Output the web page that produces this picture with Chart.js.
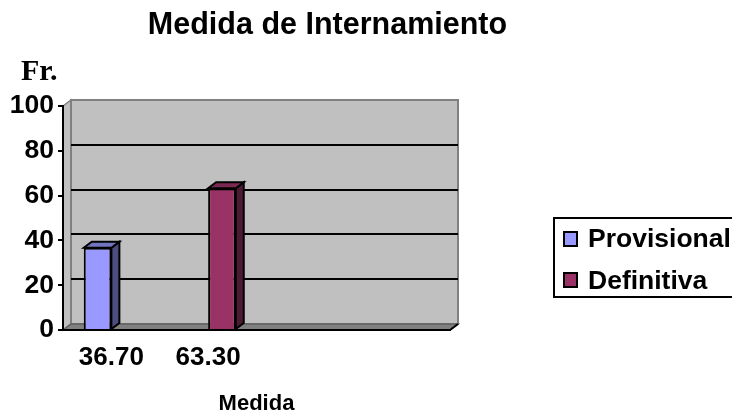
<!DOCTYPE html>
<html>
<head>
<meta charset="utf-8">
<script src="https://cdn.jsdelivr.net/npm/chart.js@4"></script>
<style>
  body { margin: 0; background: #fff; overflow: hidden; }
  #wrap { position: relative; width: 732px; height: 412px; overflow: hidden; }
  #c { position: absolute; left: 0; top: 0; }
  .txt { position: absolute; white-space: nowrap; color: #000; }
  #title { left: 0; top: 8px; width: 655px; text-align: center;
           font: bold 30.5px/30px "Liberation Sans", Arial, sans-serif; }
  #fr { left: 21px; top: 55px; font: bold 30px/30px "Liberation Serif", "Times New Roman", serif; }
  /* the legend box runs off the right edge of the picture */
  #legend { position: absolute; left: 553px; top: 217px; width: 179px; height: 81px;
            box-sizing: border-box; border: 2px solid #000; border-right: none; }
  .sw { position: absolute; width: 15px; height: 16px; box-sizing: border-box; border: 2px solid #000; }
  .lt { font: bold 26.5px/26px "Liberation Sans", Arial, sans-serif; }
</style>
</head>
<body>
<div id="wrap">
  <canvas id="c" width="732" height="412"></canvas>
  <div class="txt" id="title">Medida de Internamiento</div>
  <div class="txt" id="fr">Fr.</div>
  <div id="legend"></div>
</div>
<script>
/* ── data ─────────────────────────────────────────── */
const categories   = ['36.70', '63.30', '', ''];
const provisional  = [36.7, null, null, null];
const definitiva   = [null, 63.3, null, null];
const seriesNames  = ['Provisional', 'Definitiva'];
const yTickValues  = [0, 20, 40, 60, 80, 100];

/* ── look ─────────────────────────────────────────── */
const FRONT = ['#9999FF', '#993366'];
const TOP   = ['#7373BF', '#7A2952'];
const SIDE  = ['#4D4D80', '#4D1A33'];
const DEPTH = { x: 8, y: 6 };
const SANS  = '"Liberation Sans", Arial, sans-serif';

/* legend (html) */
const wrap = document.getElementById('wrap');
seriesNames.forEach((name, i) => {
    const sw = document.createElement('div');
    sw.className = 'sw';
    sw.style.left = '563px';
    sw.style.top = (231 + i * 41) + 'px';
    sw.style.background = FRONT[i];
    wrap.appendChild(sw);
    const t = document.createElement('div');
    t.className = 'txt lt';
    t.style.left = '588px';
    t.style.top = (225 + i * 41.5) + 'px';
    t.textContent = name;
    wrap.appendChild(t);
});

function poly(ctx, pts, fill, stroke, lw) {
    ctx.beginPath();
    ctx.moveTo(pts[0][0], pts[0][1]);
    for (let i = 1; i < pts.length; i++) ctx.lineTo(pts[i][0], pts[i][1]);
    ctx.closePath();
    if (fill) { ctx.fillStyle = fill; ctx.fill(); }
    if (stroke) { ctx.strokeStyle = stroke; ctx.lineWidth = lw || 1; ctx.stroke(); }
}

/* walls, floor and gridlines on the back wall */
const walls3d = {
    id: 'walls3d',
    beforeDraw(chart) {
        const { ctx, chartArea: a, scales: { y } } = chart;
        const dx = DEPTH.x, dy = DEPTH.y;
        ctx.save();
        // left wall
        poly(ctx, [[a.left, a.top], [a.left + dx, a.top - dy], [a.left + dx, a.bottom - dy], [a.left, a.bottom]],
             '#C0C0C0', '#808080', 1.5);
        // back wall
        poly(ctx, [[a.left + dx, a.top - dy], [a.right + dx, a.top - dy], [a.right + dx, a.bottom - dy], [a.left + dx, a.bottom - dy]],
             '#C0C0C0', '#808080', 2);
        // gridlines
        ctx.strokeStyle = '#000';
        ctx.lineWidth = 2;
        yTickValues.forEach(v => {
            if (v === 0 || v === 100) return;
            const py = Math.round(y.getPixelForValue(v)) - dy;
            ctx.beginPath();
            ctx.moveTo(a.left + dx, py);
            ctx.lineTo(a.right + dx, py);
            ctx.stroke();
        });
        // floor
        poly(ctx, [[a.left, a.bottom], [a.left + dx, a.bottom - dy], [a.right + dx, a.bottom - dy], [a.right, a.bottom]],
             '#808080', '#606060', 1.5);
        ctx.strokeStyle = '#000';
        ctx.lineWidth = 2;
        ctx.beginPath();
        ctx.moveTo(a.right, a.bottom);
        ctx.lineTo(a.right + dx, a.bottom - dy);
        ctx.stroke();
        ctx.restore();
    }
};

/* top and side faces of the bars */
const bars3d = {
    id: 'bars3d',
    afterDatasetsDraw(chart) {
        const ctx = chart.ctx;
        const dx = DEPTH.x, dy = DEPTH.y;
        ctx.save();
        chart.data.datasets.forEach((ds, di) => {
            chart.getDatasetMeta(di).data.forEach((bar, i) => {
                if (ds.data[i] == null) return;
                const { x, y, base, width } = bar.getProps(['x', 'y', 'base', 'width'], true);
                const l = x - width / 2, r = x + width / 2;
                poly(ctx, [[r, y], [r + dx, y - dy], [r + dx, base - dy], [r, base]], SIDE[di], '#000', 2);
                poly(ctx, [[l, y], [l + dx, y - dy], [r + dx, y - dy], [r, y]], TOP[di], '#000', 2);
            });
        });
        ctx.restore();
    }
};

new Chart(document.getElementById('c'), {
    type: 'bar',
    data: {
        labels: categories,
        datasets: [
            { label: seriesNames[0], data: provisional, backgroundColor: FRONT[0], borderColor: '#000', borderWidth: 2 },
            { label: seriesNames[1], data: definitiva,  backgroundColor: FRONT[1], borderColor: '#000', borderWidth: 2 },
        ],
    },
    options: {
        responsive: false,
        animation: false,
        categoryPercentage: 0.571,
        barPercentage: 1,
        layout: { padding: { top: 106, right: 282, bottom: 0, left: 0 } },
        plugins: { legend: { display: false }, tooltip: { enabled: false }, title: { display: false } },
        scales: {
            x: {
                grid: { display: false, drawTicks: false },
                border: { display: true, color: '#000', width: 2 },
                ticks: { color: '#000', font: { family: SANS, size: 26, weight: 'bold' }, padding: 12, maxRotation: 0, autoSkip: false },
                title: { display: true, text: 'Medida', color: '#000', font: { family: SANS, size: 22, weight: 'bold', lineHeight: 0.7 }, padding: 0 },
                afterFit(scale) { scale.height = 82; },
            },
            y: {
                min: 0, max: 100,
                afterBuildTicks(scale) { scale.ticks = yTickValues.map(v => ({ value: v })); },
                grid: { drawOnChartArea: false, drawTicks: true, tickLength: 5, color: '#000', lineWidth: 2 },
                border: { display: true, color: '#000', width: 2 },
                ticks: { color: '#000', font: { family: SANS, size: 26.5, weight: 'bold' }, padding: 4 },
                afterFit(scale) { scale.width = 63; },
            },
        },
    },
    plugins: [walls3d, bars3d],
});
</script>
</body>
</html>
